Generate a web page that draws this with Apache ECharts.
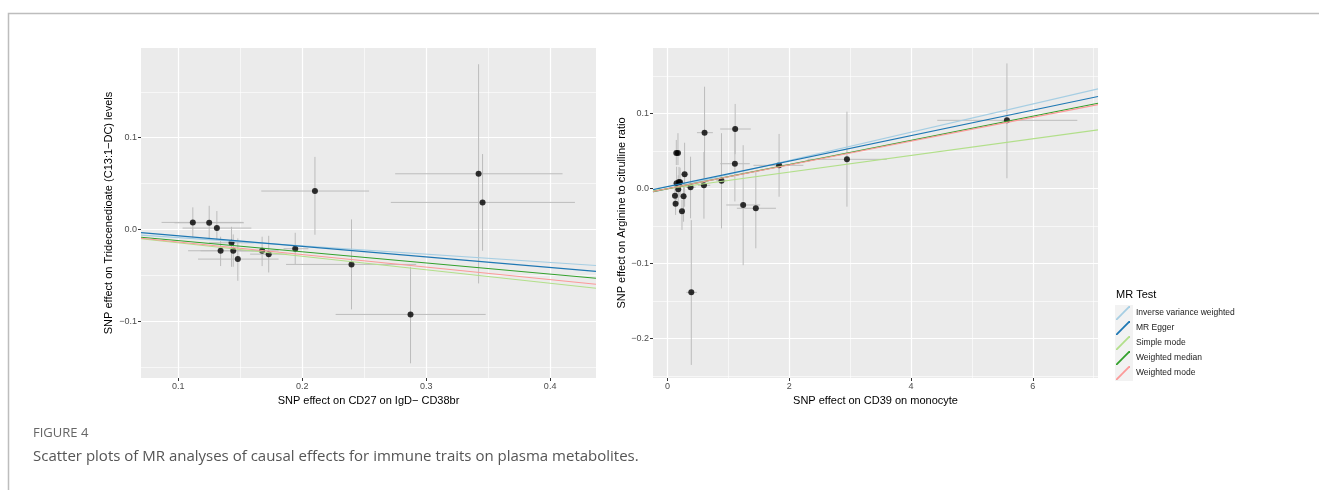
<!DOCTYPE html>
<html>
<head>
<meta charset="utf-8">
<script src="https://cdn.jsdelivr.net/npm/echarts@6/dist/echarts.min.js"></script>
<style>
  html, body { margin: 0; padding: 0; background: #fff; }
  #chart { width: 1319px; height: 490px; }
</style>
</head>
<body>
<div id="chart"></div>
<script>
// left panel: CD27 on IgD- CD38br -> Tridecenedioate
const leftX = [0.1118, 0.125, 0.1312, 0.1342, 0.143, 0.1444, 0.1481, 0.1677, 0.173, 0.1944, 0.2103, 0.2398, 0.2874, 0.3423, 0.3455]
const leftY = [0.0076, 0.0072, 0.0014, -0.0233, -0.0146, -0.0233, -0.0324, -0.0233, -0.027, -0.0211, 0.0418, -0.0382, -0.0927, 0.0606, 0.0294]
const leftXLo = [0.0866, 0.097, 0.1035, 0.108, 0.125, 0.118, 0.116, 0.150, 0.158, 0.185, 0.167, 0.187, 0.227, 0.275, 0.2715]
const leftXHi = [0.1524, 0.153, 0.159, 0.161, 0.161, 0.171, 0.181, 0.181, 0.188, 0.205, 0.254, 0.292, 0.348, 0.410, 0.420]
const leftYLo = [-0.0087, -0.0106, -0.0117, -0.040, -0.0408, -0.0408, -0.056, -0.040, -0.047, -0.0378, -0.0059, -0.0872, -0.146, -0.0589, -0.0233]
const leftYHi = [0.024, 0.0257, 0.020, -0.008, 0.0028, -0.0055, -0.0098, -0.008, -0.007, -0.0037, 0.079, 0.0109, -0.0408, 0.180, 0.0821]

// right panel: CD39 on monocyte -> Arginine to citrulline ratio
const rightX = [0.143, 0.170, 0.148, 0.187, 0.205, 0.279, 0.175, 0.121, 0.131, 0.262, 0.236, 0.377, 0.389, 0.607, 0.597, 0.885, 1.11, 1.105, 1.241, 1.449, 1.831, 2.946, 5.574]
const rightY = [0.0476, 0.0476, 0.0072, 0.0089, 0.0085, 0.0192, -0.0008, -0.0093, -0.020, -0.0102, -0.0302, 0.0019, -0.1382, 0.0747, 0.0045, 0.0107, 0.0796, 0.0333, -0.0217, -0.0261, 0.0312, 0.0392, 0.0912]
const rightXLo = [0.10, 0.13, 0.10, 0.14, 0.16, 0.22, 0.13, 0.08, 0.09, 0.21, 0.19, 0.30, 0.307, 0.482, 0.50, 0.80, 0.864, 0.864, 0.962, 1.138, 1.41, 2.30, 4.43]
const rightXHi = [0.19, 0.21, 0.20, 0.23, 0.25, 0.34, 0.22, 0.16, 0.17, 0.31, 0.28, 0.46, 0.482, 0.744, 0.70, 0.97, 1.367, 1.35, 1.52, 1.78, 2.23, 3.60, 6.73]
const rightYLo = [0.0316, 0.0316, -0.015, -0.012, -0.010, -0.024, -0.020, -0.024, -0.035, -0.044, -0.055, -0.0395, -0.235, 0.0137, -0.040, -0.053, 0.046, -0.017, -0.102, -0.0795, -0.0107, -0.024, 0.0139]
const rightYHi = [0.065, 0.074, 0.0293, 0.029, 0.028, 0.0613, 0.018, 0.0027, -0.0107, 0.0076, -0.015, 0.0427, -0.0417, 0.136, 0.049, 0.074, 0.113, 0.083, 0.058, 0.0227, 0.073, 0.1027, 0.167]

// MR methods, fitted lines (y = intercept + slope * x)
const methods = ['Inverse variance weighted', 'MR Egger', 'Simple mode', 'Weighted median', 'Weighted mode']
const methodColors = ['#a6cee3', '#1f78b4', '#b2df8a', '#33a02c', '#fb9a99']
const leftSlope = [-0.090, -0.115, -0.147, -0.122, -0.137]
const leftIntercept = [0, 0.0045, 0, 0, 0]
const rightSlope = [0.01882, 0.0170, 0.01109, 0.01613, 0.01586]
const rightIntercept = [0, 0.0028, 0, 0, 0]

const leftXRange = [0.07, 0.437]
const leftYRange = [-0.162, 0.1977]
const rightXRange = [-0.24, 7.07]
const rightYRange = [-0.2524, 0.1876]

const leftXTicks = [0.1, 0.2, 0.3, 0.4]
const leftYTicks = [-0.1, 0, 0.1]
const rightXTicks = [0, 2, 4, 6]
const rightYTicks = [-0.2, -0.1, 0, 0.1]

const chart = echarts.init(document.getElementById('chart'))

const FONT = 'Liberation Sans'
const fmt1 = v => v.toFixed(1).replace('-', '\u2212')

function valueAxis(gridIndex, range, ticks, splitNumber, name, nameGap, labelFmt) {
  return {
    type: 'value',
    gridIndex,
    min: range[0],
    max: range[1],
    splitNumber,
    name,
    nameLocation: 'middle',
    nameGap,
    nameTextStyle: { color: '#000', fontSize: 11, fontFamily: FONT },
    axisLine: { show: false, onZero: false },
    axisTick: { show: true, length: 3, customValues: ticks, lineStyle: { color: '#333', width: 1 } },
    axisLabel: {
      customValues: ticks,
      color: '#4d4d4d',
      fontSize: 9,
      fontFamily: FONT,
      margin: 4,
      formatter: labelFmt
    },
    splitLine: { show: true, lineStyle: { color: '#fff', width: 1.2 } },
    minorTick: { show: false, splitNumber: 2 },
    minorSplitLine: { show: true, lineStyle: { color: '#fff', width: 0.6 } }
  }
}

function errorBars(gridIndex, xs, ys, xl, xh, yl, yh) {
  const data = xs.map((x, i) => [x, ys[i], xl[i], xh[i], yl[i], yh[i]])
  return {
    type: 'custom',
    xAxisIndex: gridIndex,
    yAxisIndex: gridIndex,
    data,
    encode: { x: 0, y: 1 },
    silent: true,
    z: 1,
    renderItem: function (params, api) {
      const c = api.coord([api.value(0), api.value(1)])
      const xa = api.coord([api.value(2), api.value(1)])
      const xb = api.coord([api.value(3), api.value(1)])
      const ya = api.coord([api.value(0), api.value(4)])
      const yb = api.coord([api.value(0), api.value(5)])
      const style = { stroke: '#bcbcbc', lineWidth: 1 }
      return {
        type: 'group',
        children: [
          { type: 'line', shape: { x1: xa[0], y1: c[1], x2: xb[0], y2: c[1] }, style },
          { type: 'line', shape: { x1: c[0], y1: ya[1], x2: c[0], y2: yb[1] }, style }
        ]
      }
    }
  }
}

function points(gridIndex, xs, ys) {
  return {
    type: 'scatter',
    xAxisIndex: gridIndex,
    yAxisIndex: gridIndex,
    data: xs.map((x, i) => [x, ys[i]]),
    symbolSize: 6,
    itemStyle: { color: '#000' },
    z: 2,
    silent: true
  }
}

function fitLines(gridIndex, xr, slopes, intercepts) {
  return methods.map((m, k) => ({
    type: 'line',
    name: m,
    xAxisIndex: gridIndex,
    yAxisIndex: gridIndex,
    data: xr.map(x => [x, intercepts[k] + slopes[k] * x]),
    showSymbol: false,
    symbol: 'none',
    color: methodColors[k],
    lineStyle: { color: methodColors[k], width: 1.1 },
    z: 3 + k,
    silent: true
  }))
}

const keyIcon = 'path://M0,14 L1.3,14 L14,1.3 L14,0 L12.7,0 L0,12.7 Z'

const option = {
  animation: false,
  backgroundColor: '#fff',
  grid: [
    { left: 141, top: 48, width: 455, height: 330, show: true, backgroundColor: '#ebebeb', borderWidth: 0 },
    { left: 653, top: 48, width: 445, height: 330, show: true, backgroundColor: '#ebebeb', borderWidth: 0 }
  ],
  xAxis: [
    valueAxis(0, leftXRange, leftXTicks, 4, 'SNP effect on CD27 on IgD\u2212 CD38br', 16, fmt1),
    valueAxis(1, rightXRange, rightXTicks, 4, 'SNP effect on CD39 on monocyte', 16, v => String(Math.round(v)))
  ],
  yAxis: [
    valueAxis(0, leftYRange, leftYTicks, 4, 'SNP effect on Tridecenedioate (C13:1\u2212DC) levels', 27, fmt1),
    valueAxis(1, rightYRange, rightYTicks, 4, 'SNP effect on Arginine to citrulline ratio', 26, fmt1)
  ],
  legend: {
    data: methods,
    orient: 'vertical',
    left: 1116,
    top: 306,
    padding: 0,
    itemWidth: 16,
    itemHeight: 14,
    itemGap: 1,
    icon: keyIcon,
    selectedMode: false,
    textStyle: { color: '#1a1a1a', fontSize: 8.5, fontFamily: FONT }
  },
  graphic: [
    { type: 'rect', left: 6, top: 11, z: -10, silent: true,
      shape: { width: 1400, height: 600 }, style: { fill: 'none', stroke: '#bdbdbd', lineWidth: 1.5 } },
    { type: 'rect', left: 1115, top: 305, z: -5, silent: true,
      shape: { width: 18, height: 76 }, style: { fill: '#f2f2f2' } },
    { type: 'text', left: 1116, top: 289, silent: true,
      style: { text: 'MR Test', fill: '#000', font: '11px "Liberation Sans"' } },
    { type: 'text', left: 33, top: 427, silent: true,
      style: { text: 'FIGURE 4', fill: '#666', font: '13px "Open Sans"' } },
    { type: 'text', left: 33, top: 449, silent: true,
      style: { text: 'Scatter plots of MR analyses of causal effects for immune traits on plasma metabolites.', fill: '#555', font: '15px "Open Sans"' } }
  ],
  series: [
    errorBars(0, leftX, leftY, leftXLo, leftXHi, leftYLo, leftYHi),
    points(0, leftX, leftY),
    ...fitLines(0, leftXRange, leftSlope, leftIntercept),
    errorBars(1, rightX, rightY, rightXLo, rightXHi, rightYLo, rightYHi),
    points(1, rightX, rightY),
    ...fitLines(1, rightXRange, rightSlope, rightIntercept)
  ]
}

chart.setOption(option)
</script>
</body>
</html>
